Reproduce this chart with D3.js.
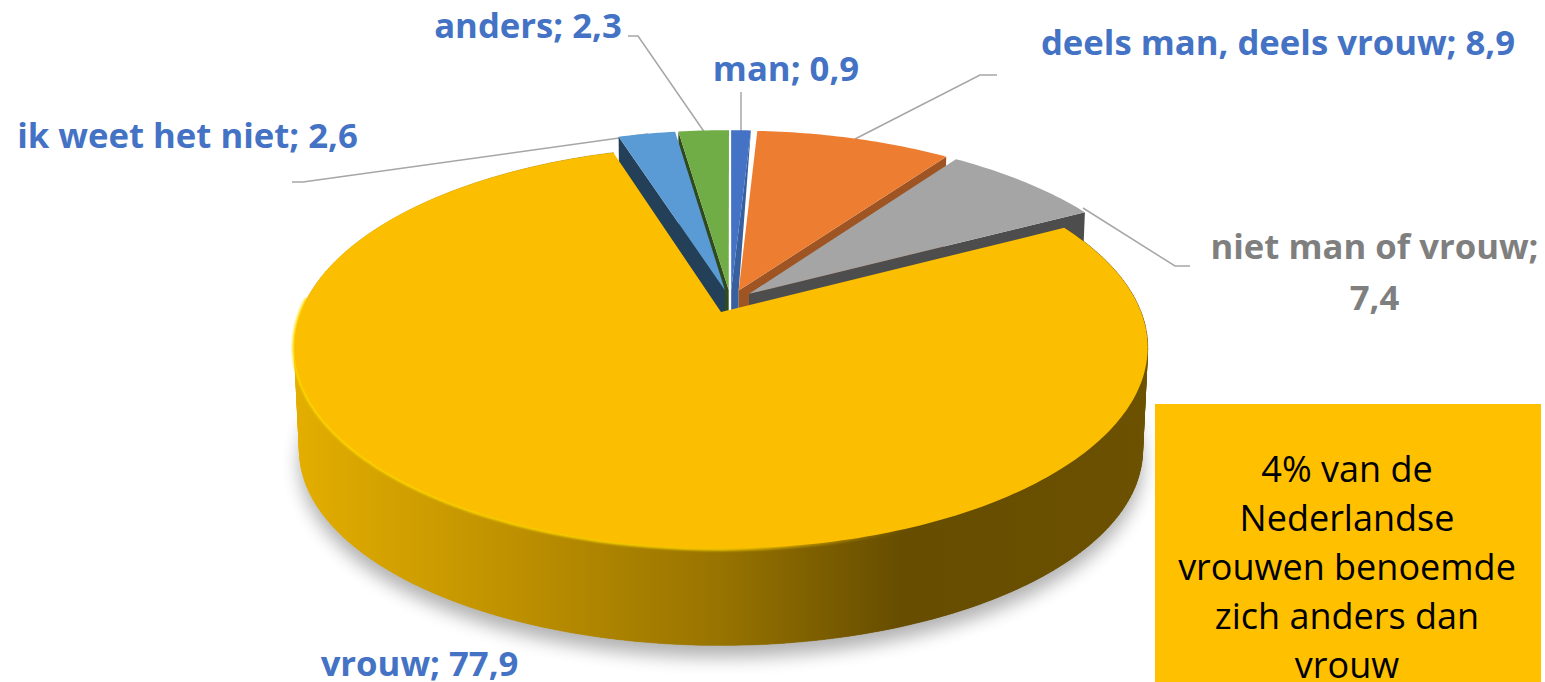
<!DOCTYPE html>
<html>
<head>
<meta charset="utf-8">
<script src="https://cdn.jsdelivr.net/npm/d3@7"></script>
<style>
  html, body { margin: 0; padding: 0; background: #fff; overflow: hidden; }
  text { font-family: "Open Sans", sans-serif; }
</style>
</head>
<body>
<div id="chart"></div>
<script>
// values as printed in the chart, clockwise from the top
const categories = ['man', 'deels man, deels vrouw', 'niet man of vrouw', 'vrouw', 'ik weet het niet', 'anders'];
const values = [0.9, 8.9, 7.4, 77.9, 2.6, 2.3];
const valueLabels = ['0,9', '8,9', '7,4', '77,9', '2,6', '2,3'];
const sliceColors = ['#4472C4', '#ED7D31', '#A5A5A5', '#FBBE00', '#5B9BD5', '#70AD47'];
const wallColors = ['#37609f', '#9e5423', '#4d4d4d', '#664d00', '#234058', '#2f4a1c'];
const noteLines = ['4% van de', 'Nederlandse', 'vrouwen benoemde', 'zich anders dan', 'vrouw'];

const width = 1545, height = 682;

const svg = d3.select('#chart').append('svg')
    .attr('width', width)
    .attr('height', height);

const defs = svg.append('defs');

// side of the big slice goes from gold to dark brown
const grad = defs.append('linearGradient')
    .attr('id', 'sideGrad')
    .attr('gradientUnits', 'userSpaceOnUse')
    .attr('x1', 296).attr('x2', 1148).attr('y1', 0).attr('y2', 0);
[[0, '#e3ae00'], [0.25, '#bf9100'], [0.5, '#977300'], [0.71, '#664d00'], [1, '#6b5100']].forEach(function(s) {
  grad.append('stop').attr('offset', s[0]).attr('stop-color', s[1]);
});

const bevel = defs.append('linearGradient')
    .attr('id', 'bevelGrad')
    .attr('gradientUnits', 'userSpaceOnUse')
    .attr('x1', 296).attr('x2', 1148).attr('y1', 0).attr('y2', 0);
[[0, '#ffd900', 1], [0.5, '#ffd400', 0.9], [0.62, '#ffc800', 0.35], [0.72, '#ffc800', 0], [1, '#ffc800', 0]].forEach(function(s) {
  bevel.append('stop').attr('offset', s[0]).attr('stop-color', s[1]).attr('stop-opacity', s[2]);
});

defs.append('filter').attr('id', 'soft').attr('x', '-10%').attr('y', '-10%').attr('width', '120%').attr('height', '120%')
    .append('feGaussianBlur').attr('stdDeviation', 9);
defs.append('filter').attr('id', 'softLine').attr('x', '-5%').attr('y', '-5%').attr('width', '110%').attr('height', '110%')
    .append('feGaussianBlur').attr('stdDeviation', 1.1);

// perspective view of the pie. top plane is the lid, bottom plane the base of the disc
const topPlane = {cx: 721, cy: 312, R: 420, S: 195, k: 0.176};
const basePlane = {cx: 721, cy: 416, R: 415, S: 189, k: 0.176};
const explode = 0.06;
const firstAngle = 0.004;

const slices = d3.pie().sort(null)
    .startAngle(firstAngle)
    .endAngle(firstAngle + 2 * Math.PI)
    .value(function(d) { return d; })(values);
const bigMid = (slices[3].startAngle + slices[3].endAngle) / 2;

function project(plane, u, v) {
  const w = 1 + plane.k * v;
  return [plane.cx + plane.R * u / w, plane.cy - plane.S * v / w];
}

// point of slice i at pie angle a, radius r. planes are anchored on the tip of the big slice
function pt(plane, i, a, r) {
  const mid = (slices[i].startAngle + slices[i].endAngle) / 2;
  const u = r * Math.sin(a) + explode * (Math.sin(mid) - Math.sin(bigMid));
  const v = r * Math.cos(a) + explode * (Math.cos(mid) - Math.cos(bigMid));
  return project(plane, u, v);
}

function rim(plane, i) {
  const n = Math.max(4, Math.round((slices[i].endAngle - slices[i].startAngle) * 60));
  return d3.range(n + 1).map(function(j) {
    const a = slices[i].startAngle + (slices[i].endAngle - slices[i].startAngle) * j / n;
    return pt(plane, i, a, 1);
  });
}

const line = d3.line();

function face(plane, i) {
  return line([pt(plane, i, 0, 0)].concat(rim(plane, i))) + 'Z';
}

// flat side of a cut, at pie angle a
function cutWall(i, a) {
  return line([pt(topPlane, i, a, 1), pt(topPlane, i, a, 0), pt(basePlane, i, a, 0), pt(basePlane, i, a, 1)]) + 'Z';
}

// leader lines go under the slices
const leaders = [
  [[628, 36], [638, 36], [705, 133]],
  [[741, 92], [741, 133]],
  [[997, 75], [980, 75], [855, 139]],
  [[1083, 208], [1175, 266], [1190, 266]],
  [[292, 182], [303, 182], [648, 134]]
];
svg.append('g').selectAll('path').data(leaders).join('path')
    .attr('d', function(d) { return line(d); })
    .attr('fill', 'none')
    .attr('stroke', '#a6a6a6')
    .attr('stroke-width', 1.5);

function drawSmall(i, cutAngle) {
  const g = svg.append('g');
  g.append('path').attr('d', cutWall(i, cutAngle)).attr('fill', wallColors[i]);
  g.append('path').attr('d', face(topPlane, i)).attr('fill', sliceColors[i]);
}

// back to front, the big slice covers the feet of the others
// the man slice shows its right side as a sliver up to the tip of its neighbour
svg.append('path')
    .attr('d', line([
      pt(topPlane, 0, slices[0].endAngle, 1),
      pt(topPlane, 1, 0, 0),
      pt(basePlane, 1, 0, 0),
      pt(basePlane, 0, 0, 0),
      pt(topPlane, 0, 0, 0)
    ]) + 'Z')
    .attr('fill', wallColors[0]);
svg.append('path').attr('d', face(topPlane, 0)).attr('fill', sliceColors[0]);
drawSmall(1, slices[1].endAngle);
drawSmall(2, slices[2].endAngle);
drawSmall(5, slices[5].startAngle);
drawSmall(4, slices[4].startAngle);

const topRim = rim(topPlane, 3);
const baseRim = rim(basePlane, 3);

svg.append('path')
    .attr('d', face(basePlane, 3))
    .attr('transform', 'translate(0,12)')
    .attr('fill', '#000')
    .attr('opacity', 0.3)
    .attr('filter', 'url(#soft)');

svg.append('path')
    .attr('d', face(basePlane, 3))
    .attr('fill', 'url(#sideGrad)');
// one quad per rim step, so the outline of the side stays straight at the left and right
const sideQuads = d3.range(topRim.length - 1).map(function(j) {
  return [topRim[j], topRim[j + 1], baseRim[j + 1], baseRim[j]];
});
svg.append('g').selectAll('path').data(sideQuads).join('path')
    .attr('d', function(d) { return line(d) + 'Z'; })
    .attr('fill', 'url(#sideGrad)')
    .attr('stroke', 'url(#sideGrad)')
    .attr('stroke-width', 0.6);

// bright edge only along the near side of the lid
const nearRim = d3.range(96, 276, 2).map(function(deg) {
  return pt(topPlane, 3, deg * Math.PI / 180, 1);
});
svg.append('path')
    .attr('d', line(nearRim))
    .attr('fill', 'none')
    .attr('stroke', 'url(#bevelGrad)')
    .attr('stroke-width', 4)
    .attr('filter', 'url(#softLine)');
svg.append('path')
    .attr('d', face(topPlane, 3))
    .attr('fill', sliceColors[3]);

// data labels
const labelPos = [
  {x: 786, y: 81, color: '#4472C4'},
  {x: 1278, y: 55, color: '#4472C4'},
  {x: 1374.5, y: 259, color: '#7f7f7f', wrap: true},
  {x: 419.5, y: 676, color: '#4472C4'},
  {x: 187.5, y: 148, color: '#4472C4'},
  {x: 528, y: 38, color: '#4472C4'}
];
const labels = svg.append('g')
    .attr('font-size', 34.7)
    .attr('font-weight', 700)
    .attr('text-anchor', 'middle');
categories.forEach(function(c, i) {
  const p = labelPos[i];
  if (p.wrap) {
    labels.append('text').attr('x', p.x).attr('y', p.y).attr('fill', p.color).text(c + ';');
    labels.append('text').attr('x', p.x).attr('y', p.y + 51).attr('fill', p.color).text(valueLabels[i]);
  } else {
    labels.append('text').attr('x', p.x).attr('y', p.y).attr('fill', p.color).text(c + '; ' + valueLabels[i]);
  }
});

// note box
svg.append('rect')
    .attr('x', 1155).attr('y', 404)
    .attr('width', 386).attr('height', 278)
    .attr('fill', '#FFC000');
const note = svg.append('g')
    .attr('font-size', 36)
    .attr('text-anchor', 'middle')
    .attr('fill', '#000');
noteLines.forEach(function(t, i) {
  note.append('text').attr('x', 1347).attr('y', 482 + i * 49).text(t);
});
</script>
</body>
</html>
